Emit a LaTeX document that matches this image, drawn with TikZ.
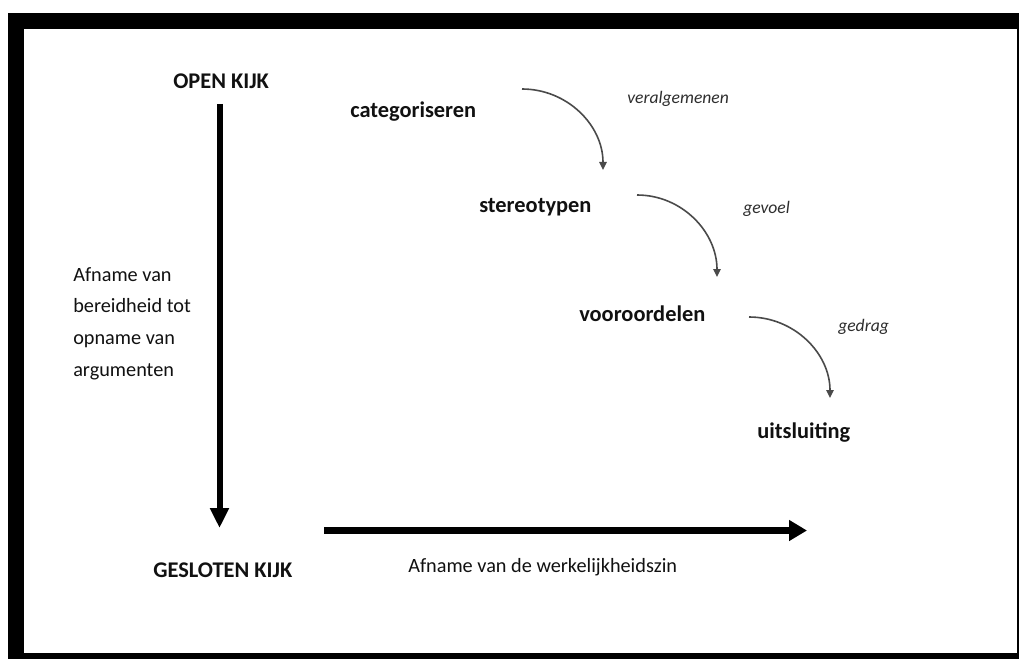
\documentclass[tikz,border=0pt]{standalone}
\usepackage{fontspec}
\setmainfont{Carlito}
\usetikzlibrary{arrows.meta}
\definecolor{curvegray}{HTML}{4A4A4A}
\definecolor{textblack}{HTML}{111111}
\definecolor{italgray}{HTML}{2E2E2E}
\tikzset{
  lbl/.style={inner sep=0pt, anchor=base west, text=textblack},
  boldlbl/.style={lbl, font=\fontsize{16.8}{20}\selectfont\bfseries},
  itallbl/.style={lbl, font=\fontsize{13.2}{16}\selectfont\itshape, text=italgray},
  reglbl/.style={lbl, font=\fontsize{15.2}{23.8}\selectfont},
  bigdown/.style={line width=4.5pt, -{Triangle[width=13.5pt,length=15pt]}},
  bigright/.style={line width=5.25pt, -{Triangle[width=15pt,length=13.5pt]}},
  curvearrow/.style={curvegray, line width=1.2pt, -{Triangle[width=5.5pt,length=6pt]}}
}
\begin{document}
\begin{tikzpicture}[x=0.75pt,y=-0.75pt]
\useasboundingbox (0,0) rectangle (1019,659);
% frame
\fill[black] (8,13) rectangle (1019,659);
\fill[white] (24,29) rectangle (1017,653);

% main labels
\node[boldlbl] (open) at (173,89) {OPEN KIJK};
\node[boldlbl] (gesloten) at (153,577) {GESLOTEN KIJK};
\node[reglbl, align=left, anchor=north west] (bereid) at (73,267) {Afname van\\bereidheid tot\\opname van\\argumenten};
\node[reglbl] (werk) at (408,572) {Afname van de werkelijkheidszin};

% big arrows
\coordinate (vA) at (219.5,104);
\coordinate (vB) at (219.5,528);
\draw[bigdown] (vA) -- (vB);
\coordinate (hA) at (324,530.5);
\coordinate (hB) at (807,530.5);
\draw[bigright] (hA) -- (hB);

% chain
\node[boldlbl] (cat) at (350,118) {categoriseren};
\node[boldlbl] (ster) at (479,212) {stereotypen};
\node[boldlbl] (voor) at (579,321) {vooroordelen};
\node[boldlbl] (uit) at (757,438) {uitsluiting};

\node[itallbl] (veral) at (627,104) {veralgemenen};
\node[itallbl] (gevoel) at (743,214) {gevoel};
\node[itallbl] (gedrag) at (838,331) {gedrag};

\coordinate (c1a) at (522,89);
\coordinate (c1b) at (603,170);
\coordinate (c2a) at (637,195);
\coordinate (c2b) at (717,277);
\coordinate (c3a) at (749,317);
\coordinate (c3b) at (830,398);
\draw[curvearrow] (c1a) .. controls +(45,0) and +(0,-45) .. (c1b);
\draw[curvearrow] (c2a) .. controls +(45,0) and +(0,-45) .. (c2b);
\draw[curvearrow] (c3a) .. controls +(45,0) and +(0,-45) .. (c3b);
\end{tikzpicture}
\end{document}
